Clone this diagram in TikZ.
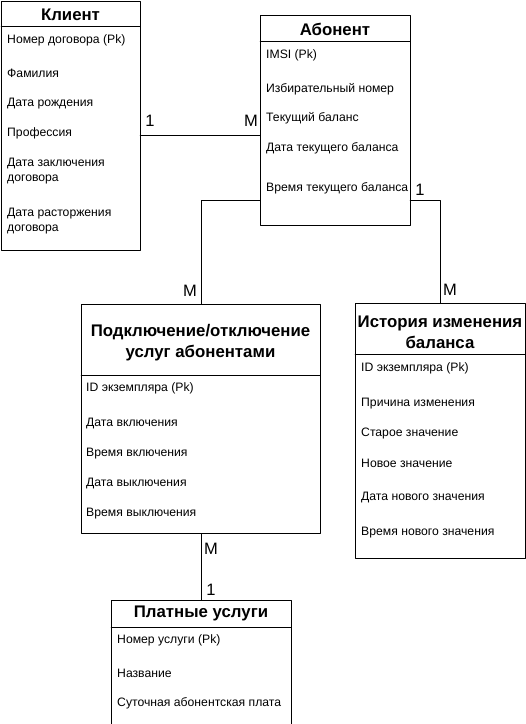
\documentclass[tikz,border=0pt]{standalone}
\usepackage{fontspec}
\setmainfont{Liberation Sans}
\begin{document}
\begin{tikzpicture}[x=1pt,y=-1pt,line join=round,line cap=round,
		font=\fontsize{12.2}{15}\selectfont,
		box/.style={draw,inner sep=0,anchor=north west},
		ttl/.style={font=\fontsize{16.8}{21}\selectfont\bfseries,align=center,inner sep=0},
		att/.style={anchor=west,inner sep=0,align=left},
		lbl/.style={font=\fontsize{16.5}{19}\selectfont,inner sep=0}]
				\clip (0,0) rectangle (526,724);
				% entities
				\node[box,minimum width=139pt,minimum height=249pt] (K) at (1,1) {};
				\node[box,minimum width=150pt,minimum height=210pt] (A) at (260,15) {};
				\node[box,minimum width=239pt,minimum height=229pt] (P) at (81,304) {};
				\node[box,minimum width=170pt,minimum height=255pt] (I) at (355,303) {};
				\node[box,minimum width=180pt,minimum height=130pt] (U) at (111,600) {};
				\draw
				(K.north west)++(0,25)--++(0:139)
				(A.north west)++(0,26)--++(0:150)
				(P.north west)++(0,71)--++(0:239)
				(I.north west)++(0,51)--++(0:170)
				(U.north west)++(0,27)--++(0:180)
				;
				\path
				(70.5,15) node[ttl] (Kt) {Клиент}
				(335,29) node[ttl] (At) {Абонент}
				(200.5,343) node[ttl] (Pt) {Подключение/отключение\\услуг абонентами}
				(440,332) node[ttl] (It) {История изменения\\баланса}
				(201,613) node[ttl] (Ut) {Платные услуги}
				;
				% attributes
				\path
				(7,40.5) node[att] {Номер договора (Pk)}
				(7,73.5) node[att] {Фамилия}
				(7,103.5) node[att] {Дата рождения}
				(7,133.5) node[att] {Профессия}
				(7,171) node[att] {Дата заключения\\договора}
				(7,221) node[att] {Дата расторжения\\договора}
				(266,55.5) node[att] {IMSI (Pk)}
				(266,89.5) node[att] {Избирательный номер}
				(266,118.5) node[att] {Текущий баланс}
				(266,148.5) node[att] {Дата текущего баланса}
				(266,188.5) node[att] {Время текущего баланса}
				(86,388.5) node[att] {ID экземпляра (Pk)}
				(86,423.5) node[att] {Дата включения}
				(86,453.5) node[att] {Время включения}
				(86,483.5) node[att] {Дата выключения}
				(86,513.5) node[att] {Время выключения}
				(361,368.5) node[att] {ID экземпляра (Pk)}
				(361,403.5) node[att] {Причина изменения}
				(361,433.5) node[att] {Старое значение}
				(361,463.5) node[att] {Новое значение}
				(361,497.5) node[att] {Дата нового значения}
				(361,532.5) node[att] {Время нового значения}
				(117,640.5) node[att] {Номер услуги (Pk)}
				(117,673.5) node[att] {Название}
				(117,703.5) node[att] {Суточная абонентская плата}
				;
				% relations
				\coordinate (kr) at (140,135);
				\coordinate (al) at (260,200);
				\coordinate (ar) at (410,200);
				\draw (kr)--(kr-|A.west);
				\draw (al)-|(P.north);
				\draw (ar)-|(I.north);
				\draw (P.south)--(P.south|-U.north);
				\path
				(150,121) node[lbl] {1}
				(251,121) node[lbl] {M}
				(190,291) node[lbl] {M}
				(420,190) node[lbl] {1}
				(450,290) node[lbl] {M}
				(211,549) node[lbl] {M}
				(211,590) node[lbl] {1}
				;
		\end{tikzpicture}
\end{document}
